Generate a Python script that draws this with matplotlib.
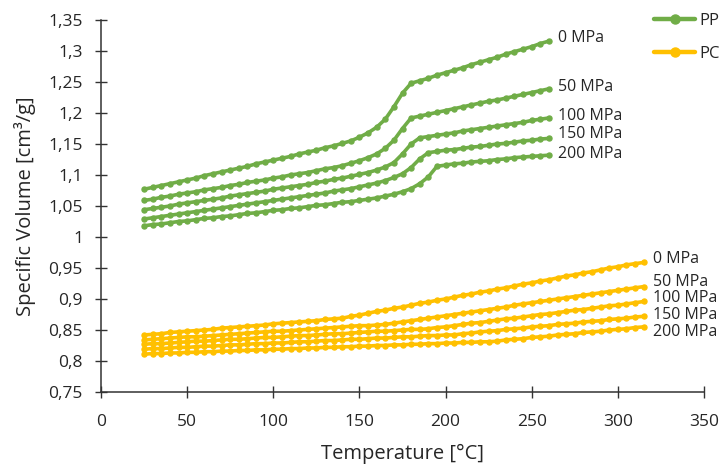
import matplotlib
matplotlib.use("Agg")
import matplotlib.pyplot as plt
from matplotlib.ticker import FuncFormatter, MultipleLocator

# ---------------- data ----------------
pp_temp = [25, 30, 35, 40, 45, 50, 55, 60, 65, 70, 75, 80, 85, 90, 95, 100,
           105, 110, 115, 120, 125, 130, 135, 140, 145, 150, 155, 160, 165, 170,
           175, 180, 185, 190, 195, 200, 205, 210, 215, 220, 225, 230, 235, 240,
           245, 250, 255, 260]

pp_0 = [1.077, 1.080, 1.083, 1.086, 1.089, 1.092, 1.095, 1.099, 1.102, 1.105,
        1.108, 1.111, 1.114, 1.118, 1.121, 1.124, 1.127, 1.130, 1.134, 1.137,
        1.140, 1.144, 1.147, 1.151, 1.155, 1.161, 1.168, 1.177, 1.190, 1.210,
        1.232, 1.248, 1.252, 1.256, 1.261, 1.265, 1.269, 1.273, 1.278, 1.282,
        1.286, 1.290, 1.295, 1.299, 1.303, 1.307, 1.312, 1.316]
pp_50 = [1.059, 1.061, 1.064, 1.066, 1.069, 1.071, 1.073, 1.076, 1.078, 1.080,
         1.083, 1.085, 1.088, 1.090, 1.092, 1.095, 1.097, 1.100, 1.102, 1.104,
         1.107, 1.110, 1.112, 1.115, 1.119, 1.123, 1.128, 1.134, 1.143, 1.156,
         1.175, 1.192, 1.195, 1.198, 1.201, 1.204, 1.207, 1.210, 1.213, 1.216,
         1.219, 1.221, 1.224, 1.227, 1.230, 1.233, 1.236, 1.239]
pp_100 = [1.044, 1.046, 1.048, 1.050, 1.053, 1.055, 1.057, 1.059, 1.061, 1.063,
          1.066, 1.068, 1.070, 1.072, 1.074, 1.077, 1.079, 1.081, 1.083, 1.085,
          1.088, 1.090, 1.093, 1.095, 1.098, 1.101, 1.104, 1.108, 1.113, 1.120,
          1.134, 1.150, 1.160, 1.162, 1.164, 1.166, 1.168, 1.171, 1.173, 1.175,
          1.177, 1.179, 1.181, 1.183, 1.185, 1.188, 1.190, 1.192]
pp_150 = [1.029, 1.031, 1.033, 1.035, 1.037, 1.039, 1.041, 1.043, 1.045, 1.047,
          1.049, 1.051, 1.053, 1.055, 1.057, 1.059, 1.061, 1.063, 1.065, 1.067,
          1.069, 1.071, 1.074, 1.076, 1.078, 1.081, 1.084, 1.087, 1.091, 1.096,
          1.102, 1.112, 1.126, 1.136, 1.138, 1.140, 1.141, 1.143, 1.145, 1.146,
          1.148, 1.150, 1.151, 1.153, 1.155, 1.156, 1.158, 1.159]
pp_200 = [1.018, 1.020, 1.021, 1.023, 1.025, 1.026, 1.028, 1.030, 1.031, 1.033,
          1.034, 1.036, 1.038, 1.039, 1.041, 1.043, 1.044, 1.046, 1.047, 1.049,
          1.051, 1.052, 1.054, 1.056, 1.057, 1.059, 1.061, 1.063, 1.066, 1.069,
          1.073, 1.078, 1.086, 1.097, 1.114, 1.116, 1.118, 1.119, 1.121, 1.122,
          1.123, 1.125, 1.126, 1.128, 1.129, 1.130, 1.131, 1.132]

pc_temp = [25, 30, 35, 40, 45, 50, 55, 60, 65, 70, 75, 80, 85, 90, 95, 100,
           105, 110, 115, 120, 125, 130, 135, 140, 145, 150, 155, 160, 165, 170,
           175, 180, 185, 190, 195, 200, 205, 210, 215, 220, 225, 230, 235, 240,
           245, 250, 255, 260, 265, 270, 275, 280, 285, 290, 295, 300, 305, 310,
           315]

pc_0 = [0.842, 0.843, 0.844, 0.846, 0.847, 0.848, 0.849, 0.850, 0.851, 0.853,
        0.854, 0.855, 0.856, 0.857, 0.858, 0.860, 0.861, 0.862, 0.863, 0.864,
        0.865, 0.867, 0.868, 0.869, 0.872, 0.874, 0.877, 0.880, 0.882, 0.885,
        0.887, 0.890, 0.893, 0.895, 0.898, 0.900, 0.903, 0.906, 0.908, 0.911,
        0.913, 0.916, 0.918, 0.921, 0.924, 0.926, 0.929, 0.931, 0.934, 0.937,
        0.939, 0.942, 0.944, 0.947, 0.950, 0.952, 0.955, 0.957, 0.959]
pc_50 = [0.834, 0.835, 0.836, 0.837, 0.838, 0.839, 0.839, 0.840, 0.841, 0.842,
         0.843, 0.844, 0.845, 0.846, 0.847, 0.848, 0.848, 0.849, 0.850, 0.851,
         0.852, 0.853, 0.854, 0.855, 0.856, 0.857, 0.857, 0.858, 0.859, 0.861,
         0.863, 0.865, 0.867, 0.869, 0.871, 0.873, 0.875, 0.877, 0.879, 0.881,
         0.883, 0.885, 0.887, 0.890, 0.892, 0.894, 0.896, 0.898, 0.900, 0.902,
         0.904, 0.906, 0.908, 0.910, 0.912, 0.914, 0.916, 0.918, 0.920]
pc_100 = [0.827, 0.828, 0.828, 0.829, 0.830, 0.831, 0.832, 0.832, 0.833, 0.834,
          0.835, 0.835, 0.836, 0.837, 0.838, 0.838, 0.839, 0.840, 0.841, 0.841,
          0.842, 0.843, 0.844, 0.844, 0.845, 0.846, 0.847, 0.848, 0.848, 0.849,
          0.850, 0.851, 0.851, 0.852, 0.854, 0.855, 0.857, 0.859, 0.861, 0.862,
          0.864, 0.866, 0.868, 0.869, 0.871, 0.873, 0.875, 0.876, 0.878, 0.880,
          0.882, 0.883, 0.885, 0.887, 0.889, 0.890, 0.892, 0.894, 0.896]
pc_150 = [0.819, 0.820, 0.820, 0.821, 0.822, 0.822, 0.823, 0.824, 0.824, 0.825,
          0.826, 0.826, 0.827, 0.828, 0.828, 0.829, 0.829, 0.830, 0.831, 0.831,
          0.832, 0.833, 0.833, 0.834, 0.835, 0.835, 0.836, 0.837, 0.837, 0.838,
          0.839, 0.839, 0.840, 0.841, 0.841, 0.842, 0.842, 0.844, 0.845, 0.847,
          0.848, 0.849, 0.851, 0.852, 0.853, 0.855, 0.856, 0.857, 0.859, 0.860,
          0.861, 0.863, 0.864, 0.865, 0.867, 0.868, 0.869, 0.871, 0.872]
pc_200 = [0.811, 0.812, 0.812, 0.813, 0.813, 0.814, 0.814, 0.815, 0.815, 0.816,
          0.816, 0.817, 0.817, 0.818, 0.818, 0.819, 0.819, 0.820, 0.820, 0.821,
          0.821, 0.822, 0.822, 0.823, 0.823, 0.824, 0.824, 0.825, 0.825, 0.826,
          0.826, 0.827, 0.827, 0.828, 0.828, 0.829, 0.829, 0.830, 0.830, 0.831,
          0.831, 0.832, 0.834, 0.835, 0.836, 0.838, 0.839, 0.840, 0.842, 0.843,
          0.844, 0.846, 0.847, 0.848, 0.850, 0.851, 0.852, 0.854, 0.855]

pressure_labels = ["0 MPa", "50 MPa", "100 MPa", "150 MPa", "200 MPa"]
series_names = ["PP", "PC"]

# ---------------- styling ----------------
GREEN = "#70AD47"
YELLOW = "#FFC000"
AXCOL = "#333333"
TXT = "#262626"
FONT = ["Open Sans", "DejaVu Sans"]
plt.rcParams["font.family"] = FONT

fig = plt.figure(figsize=(7.23, 4.67), dpi=100)
ax = fig.add_axes([101 / 723, 1 - 392 / 467, (704 - 101) / 723, (392 - 20) / 467])

pp_series = [pp_0, pp_50, pp_100, pp_150, pp_200]
pc_series = [pc_0, pc_50, pc_100, pc_150, pc_200]

line_kw = dict(lw=2.6, marker="o", ms=3.6, solid_capstyle="round",
               solid_joinstyle="round")
pp_lines = [ax.plot(pp_temp, s, color=GREEN, **line_kw)[0] for s in pp_series]
pc_lines = [ax.plot(pc_temp, s, color=YELLOW, **line_kw)[0] for s in pc_series]

# end labels (pixel offsets: y up)
pp_dy = [3, 2, 2, 4, 1]
pc_dy = [3, 5, 3, 1, -5]
for s, lab, dy in zip(pp_series, pressure_labels, pp_dy):
    ax.annotate(lab, (pp_temp[-1], s[-1]), xytext=(6.5, dy * 0.72),
                textcoords="offset points", va="center", ha="left",
                fontsize=11.5, color=TXT, annotation_clip=False)
for s, lab, dy in zip(pc_series, pressure_labels, pc_dy):
    ax.annotate(lab, (pc_temp[-1], s[-1]), xytext=(6.5, dy * 0.72),
                textcoords="offset points", va="center", ha="left",
                fontsize=11.5, color=TXT, annotation_clip=False)

ax.set_xlim(0, 350)
ax.set_ylim(0.75, 1.35)
ax.xaxis.set_major_locator(MultipleLocator(50))
ax.yaxis.set_major_locator(MultipleLocator(0.05))


def comma_fmt(v, pos):
    return f"{round(v, 2):g}".replace(".", ",")


ax.yaxis.set_major_formatter(FuncFormatter(comma_fmt))
ax.xaxis.set_major_formatter(FuncFormatter(comma_fmt))

for sp in ["top", "right"]:
    ax.spines[sp].set_visible(False)
for sp in ["left", "bottom"]:
    ax.spines[sp].set_color(AXCOL)
    ax.spines[sp].set_linewidth(1.1)

ax.tick_params(axis="both", direction="inout", length=9, width=1.0,
               color=AXCOL, labelsize=12.5, labelcolor=TXT)
ax.tick_params(axis="y", pad=8.5)
ax.tick_params(axis="x", pad=11)

ax.set_xlabel("Temperature [°C]", fontsize=14.5, color=TXT, labelpad=10.5)
ax.set_ylabel("Specific Volume [cm³/g]", fontsize=14.5, color=TXT, labelpad=8.7)

leg = fig.legend([pp_lines[0], pc_lines[0]], series_names,
                 loc="upper left", bbox_to_anchor=(647 / 723, 1 - 6 / 467),
                 frameon=False, fontsize=12, handlelength=2.5,
                 labelspacing=1.05, handletextpad=0.25, borderaxespad=0,
                 labelcolor=TXT)
for h in leg.legend_handles:
    h.set_linewidth(3.2)
    h.set_markersize(6.5)

fig.savefig("out.png", dpi=100)
